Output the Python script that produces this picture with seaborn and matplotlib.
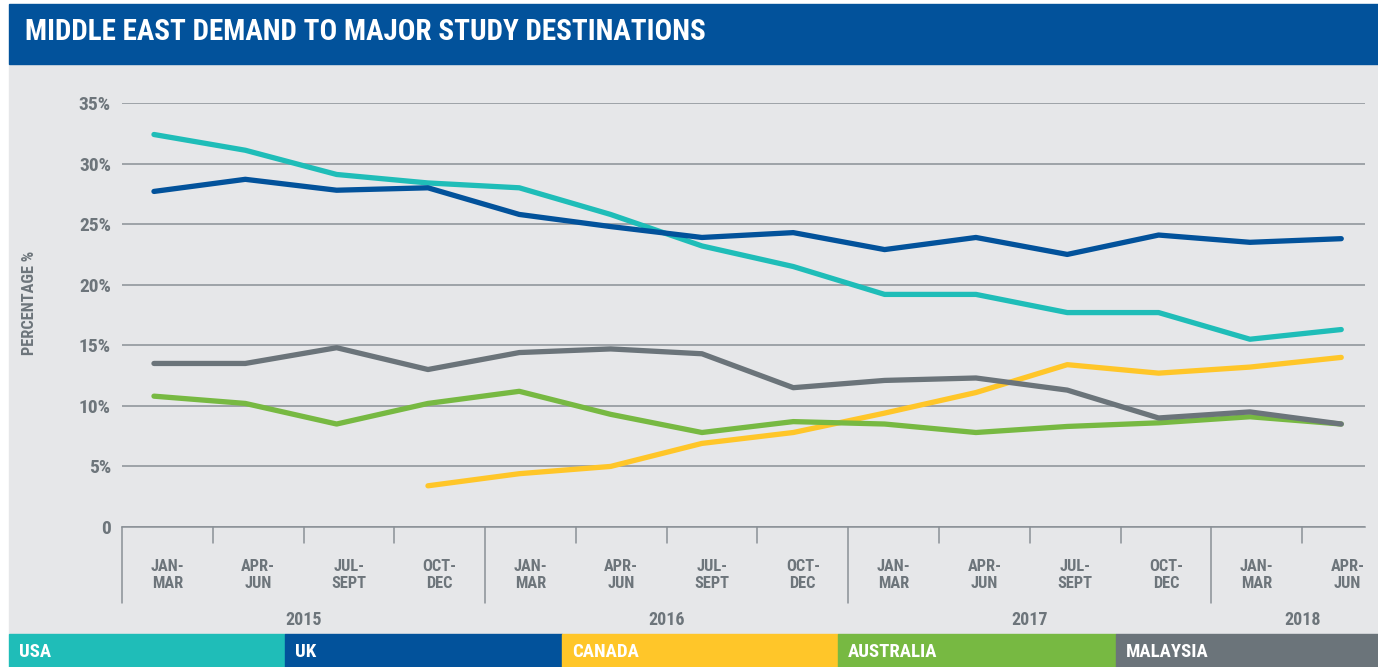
import numpy as np
import pandas as pd
import matplotlib
matplotlib.use("Agg")
import matplotlib.pyplot as plt
from matplotlib.patches import Rectangle
import seaborn as sns

# Chart data (percent share of Middle East demand)
quarters = ["JAN-\nMAR", "APR-\nJUN", "JUL-\nSEPT", "OCT-\nDEC"] * 3 + ["JAN-\nMAR", "APR-\nJUN"]
years = ["2015", "2016", "2017", "2018"]
countries = ["USA", "UK", "CANADA", "AUSTRALIA", "MALAYSIA"]
usa = [32.4, 31.1, 29.1, 28.4, 28.0, 25.8, 23.2, 21.5, 19.2, 19.2, 17.7, 17.7, 15.5, 16.3]
uk = [27.7, 28.7, 27.8, 28.0, 25.8, 24.8, 23.9, 24.3, 22.9, 23.9, 22.5, 24.1, 23.5, 23.8]
canada = [np.nan, np.nan, np.nan, 3.4, 4.4, 5.0, 6.9, 7.8, 9.4, 11.1, 13.4, 12.7, 13.2, 14.0]
australia = [10.8, 10.2, 8.5, 10.2, 11.2, 9.3, 7.8, 8.7, 8.5, 7.8, 8.3, 8.6, 9.1, 8.5]
malaysia = [13.5, 13.5, 14.8, 13.0, 14.4, 14.7, 14.3, 11.5, 12.1, 12.3, 11.3, 9.0, 9.5, 8.5]
colors = ["#1fbdb8", "#02529b", "#ffc629", "#77b942", "#6b747a"]

series = [usa, uk, canada, australia, malaysia]
df = pd.concat([pd.DataFrame({"idx": np.arange(len(quarters)), "value": s, "country": c})
                for c, s in zip(countries, series)]).dropna()

sns.set_style("white")
plt.rcParams["font.family"] = ["Roboto Condensed", "Liberation Sans Narrow", "Liberation Sans", "DejaVu Sans"]
plt.rcParams["font.weight"] = "bold"

W, H = 1378, 667
fig = plt.figure(figsize=(W / 100, H / 100), dpi=100, facecolor="white")

# background panels
gray_bg = "#e6e7e9"
fig.patches.append(Rectangle((9 / W, (H - 634) / H), 1 - 9 / W, (634 - 64) / H,
                             transform=fig.transFigure, color=gray_bg, zorder=-2))
fig.patches.append(Rectangle((9 / W, (H - 64) / H), 1 - 9 / W, 60 / H,
                             transform=fig.transFigure, color="#02529b", zorder=-2))
fig.text(25 / W, (H - 32) / H, "MIDDLE EAST DEMAND TO MAJOR STUDY DESTINATIONS",
         color="white", fontsize=21, fontweight="bold", va="center", ha="left")

# legend bar
seg_edges = [9, 285, 562, 838, 1116, 1378]
for i, (c, col) in enumerate(zip(countries, colors)):
    x0, x1 = seg_edges[i], seg_edges[i + 1]
    fig.patches.append(Rectangle((x0 / W, 0), (x1 - x0) / W, (H - 634) / H,
                                 transform=fig.transFigure, color=col, zorder=-1))
    fig.text((x0 + 10) / W, (H - 652) / H, c, color="white", fontsize=13.5,
             fontweight="bold", va="center", ha="left", zorder=2)

# main axes
ax = fig.add_axes([122 / W, (H - 527) / H, (1365 - 122) / W, (527 - 103) / H])
ax.patch.set_alpha(0)

sns.lineplot(data=df, x="idx", y="value", hue="country", hue_order=countries,
             palette=colors, linewidth=3.8, legend=False, ax=ax,
             solid_capstyle="round", solid_joinstyle="round", zorder=3)

txt_gray = "#6d757b"
line_gray = "#8a9096"
ax.set_xlim(-0.35, 13.26)
ax.set_ylim(0, 35)
ax.set_yticks(np.arange(0, 36, 5))
ax.set_yticklabels(["0"] + [f"{v}%" for v in range(5, 36, 5)])
ax.yaxis.grid(True, color=line_gray, linewidth=1.1)
ax.set_axisbelow(True)
for s in ["top", "right", "left"]:
    ax.spines[s].set_visible(False)
ax.spines["bottom"].set_color(line_gray)
ax.spines["bottom"].set_linewidth(1.1)
ax.tick_params(axis="y", length=0, pad=8, labelsize=14, labelcolor=txt_gray)

# category cells below the axis are slightly narrower than the point spacing
step = 0.994
bounds = -0.35 + np.arange(len(quarters)) * step

ax.set_xticks(bounds + step / 2)
ax.set_xticklabels(quarters, linespacing=1.15)
ax.tick_params(axis="x", length=0, pad=23, labelsize=11.8, labelcolor=txt_gray)
ax.set_xlabel("")
ax.set_ylabel("PERCENTAGE %", color=txt_gray, fontsize=11.8, fontweight="bold")
ax.yaxis.set_label_coords(-85 / 1243, 0.528)

# quarter separators and year separators below the axis
xt = ax.get_xaxis_transform()
for k, b in enumerate(bounds):
    if k % 4 == 0:
        ax.plot([b, b], [0, -76 / 424], color=line_gray, lw=1.1, transform=xt, clip_on=False)
    else:
        ax.plot([b, b], [0, -16 / 424], color=line_gray, lw=1.1, transform=xt, clip_on=False)

year_centers = [bounds[2], bounds[6], bounds[10], bounds[13]]
for yr, xc in zip(years, year_centers):
    ax.text(xc, -93 / 424, yr, transform=xt, ha="center", va="center",
            fontsize=13, fontweight="bold", color=txt_gray)

fig.savefig("out.png", dpi=100, facecolor="white")
